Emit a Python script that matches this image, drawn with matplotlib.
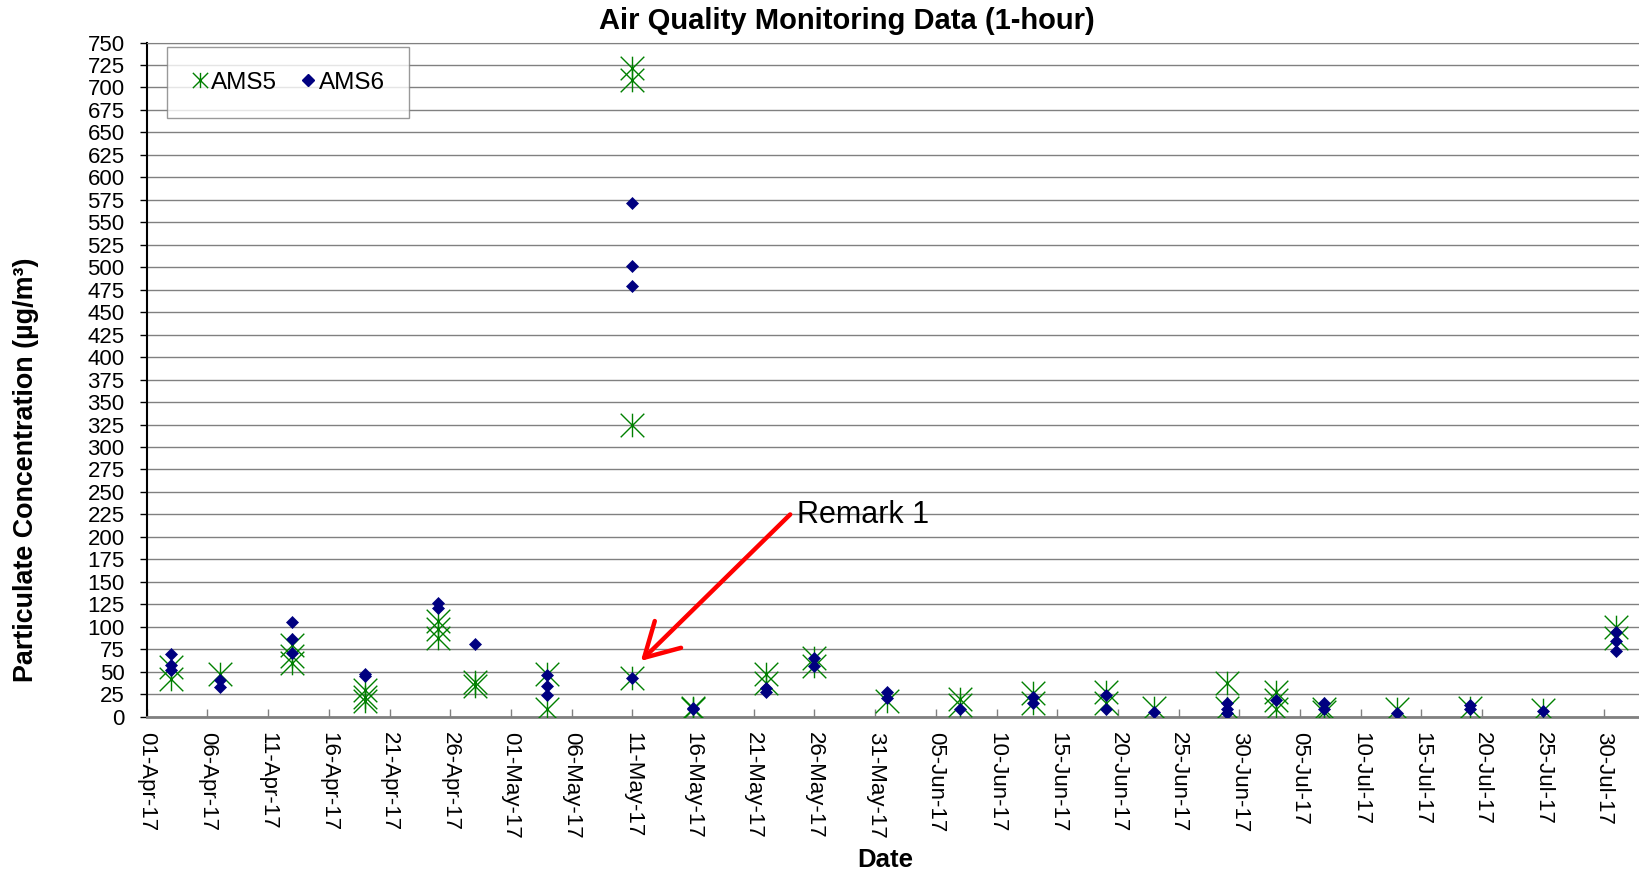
import pandas as pd
import matplotlib
matplotlib.use('Agg')
import matplotlib.pyplot as plt
import matplotlib.dates as mdates
from matplotlib.path import Path
from matplotlib.lines import Line2D

plt.rcParams['font.family'] = ['Liberation Sans', 'DejaVu Sans']

# AMS5 readings (1-hour)
ams5_dates = ['2017-04-03', '2017-04-03', '2017-04-07', '2017-04-13', '2017-04-13', '2017-04-13',
              '2017-04-19', '2017-04-19', '2017-04-19', '2017-04-25', '2017-04-25', '2017-04-25',
              '2017-04-28', '2017-04-28', '2017-05-04', '2017-05-04',
              '2017-05-11', '2017-05-11', '2017-05-11', '2017-05-11',
              '2017-05-16', '2017-05-16', '2017-05-22', '2017-05-22', '2017-05-26', '2017-05-26',
              '2017-06-01', '2017-06-07', '2017-06-07', '2017-06-13', '2017-06-13',
              '2017-06-19', '2017-06-19', '2017-06-23', '2017-06-29', '2017-06-29',
              '2017-07-03', '2017-07-03', '2017-07-03', '2017-07-07', '2017-07-07',
              '2017-07-13', '2017-07-19', '2017-07-25', '2017-07-31', '2017-07-31']
ams5_values = [55, 42, 48, 80, 68, 60,
               30, 22, 18, 106, 97, 88,
               39, 34, 48, 8,
               722, 708, 324, 43,
               10, 8, 48, 38, 65, 56,
               18, 20, 13, 26, 15,
               28, 15, 10, 37, 10,
               28, 19, 9, 9, 5,
               8, 10, 7, 100, 88]

# AMS6 readings (1-hour)
ams6_dates = ['2017-04-03', '2017-04-03', '2017-04-03', '2017-04-07', '2017-04-07',
              '2017-04-13', '2017-04-13', '2017-04-13', '2017-04-19', '2017-04-19',
              '2017-04-25', '2017-04-25', '2017-04-28', '2017-05-04', '2017-05-04', '2017-05-04',
              '2017-05-11', '2017-05-11', '2017-05-11', '2017-05-11',
              '2017-05-16', '2017-05-16', '2017-05-22', '2017-05-22', '2017-05-26', '2017-05-26',
              '2017-06-01', '2017-06-01', '2017-06-07', '2017-06-13', '2017-06-13',
              '2017-06-19', '2017-06-19', '2017-06-23', '2017-06-29', '2017-06-29', '2017-06-29',
              '2017-07-03', '2017-07-07', '2017-07-07', '2017-07-13', '2017-07-19', '2017-07-19',
              '2017-07-25', '2017-07-31', '2017-07-31', '2017-07-31']
ams6_values = [70, 58, 52, 41, 33,
               105, 86, 71, 47, 45,
               127, 121, 81, 46, 34, 24,
               572, 501, 479, 43,
               10, 8, 32, 27, 65, 56,
               28, 21, 9, 22, 15,
               24, 9, 5, 15, 9, 4,
               19, 15, 9, 4, 13, 9,
               6, 94, 84, 73]

x5 = pd.to_datetime(ams5_dates)
x6 = pd.to_datetime(ams6_dates)

# excel style asterisk: X plus a vertical bar
star = Path([(-1, -1), (1, 1), (-1, 1), (1, -1), (0, -1), (0, 1)],
            [Path.MOVETO, Path.LINETO, Path.MOVETO, Path.LINETO, Path.MOVETO, Path.LINETO])

green = '#008000'
navy = '#000080'

fig = plt.figure(figsize=(16.4, 8.77), dpi=100)
ax = fig.add_axes([0.0895, 0.1828, 0.9105, 0.7687])

ax.plot(x5, ams5_values, linestyle='none', marker=star, ms=17, mew=1.0,
        mec=green, mfc='none', zorder=3)
ax.plot(x6, ams6_values, linestyle='none', marker='D', ms=6.6, mew=0.5,
        mec=navy, mfc=navy, zorder=4)

ax.set_ylim(0, 750)
ax.set_yticks(range(0, 751, 25))
ax.set_xlim(pd.Timestamp('2017-04-01'), pd.Timestamp('2017-08-02'))
ax.set_xticks(pd.date_range('2017-04-01', '2017-07-30', freq='5D'))
ax.xaxis.set_major_formatter(mdates.DateFormatter('%d-%b-%y'))

ax.grid(axis='y', color='#808080', lw=1.0)
ax.set_axisbelow(True)
ax.tick_params(axis='y', direction='out', length=5, width=1, labelsize=16, pad=11)
ax.tick_params(axis='x', direction='in', length=6, width=1, color='#808080',
               labelsize=16, pad=11, labelrotation=-90)
for lab in ax.get_xticklabels():
    lab.set_ha('center')
    lab.set_va('top')

ax.spines['left'].set_color('black')
ax.spines['left'].set_linewidth(1.5)
ax.spines['bottom'].set_color('#808080')
ax.spines['bottom'].set_linewidth(2)
ax.spines['top'].set_color('#808080')
ax.spines['right'].set_visible(False)

fig.text(0.5165, 0.976, 'Air Quality Monitoring Data (1-hour)', fontsize=21,
         fontweight='bold', ha='center', va='center')
fig.text(0.5396, 0.019, 'Date', fontsize=18.5, fontweight='bold', ha='center', va='center')
fig.text(0.016, 0.464, 'Particulate Concentration (µg/m³)', fontsize=19.4,
         fontweight='bold', rotation=90, ha='center', va='center')

# remark arrow
tip = (pd.Timestamp('2017-05-11') + pd.Timedelta(days=0.7), 62)
tail = (pd.Timestamp('2017-05-24'), 225)
ax.annotate('', xy=tip, xytext=tail,
            arrowprops=dict(arrowstyle='->,head_length=0.8,head_width=0.45',
                            color='red', lw=3.2, mutation_scale=30,
                            shrinkA=0, shrinkB=0), zorder=5)
ax.text(pd.Timestamp('2017-05-24') + pd.Timedelta(days=0.6), 224, 'Remark 1',
        fontsize=22, ha='left', va='center')

handles = [Line2D([], [], linestyle='none', marker=star, ms=11, mew=1.0, mec=green),
           Line2D([], [], linestyle='none', marker='D', ms=6, mec=navy, mfc=navy)]
leg = ax.legend(handles, ['AMS5', 'AMS6'], loc='upper left', bbox_to_anchor=(0.0136, 0.993),
                ncol=2, fontsize=17.5, frameon=True, fancybox=False, borderaxespad=0,
                handlelength=0.7, handletextpad=0.12, columnspacing=0.9, borderpad=1.0)
leg.get_frame().set_edgecolor('#808080')
leg.get_frame().set_linewidth(1.0)

fig.savefig('out.png', dpi=100)
